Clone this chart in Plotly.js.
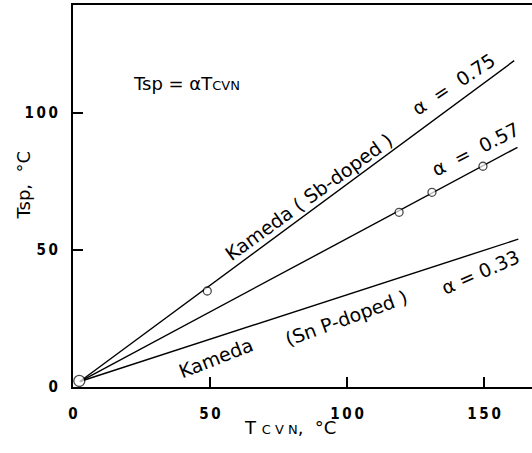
<!DOCTYPE html>
<html>
<head>
<meta charset="utf-8">
<script src="https://cdn.plot.ly/plotly-3.0.1.min.js"></script>
<style>html,body{margin:0;padding:0;background:#fff;}#chart{width:532px;height:453px;}</style>
</head>
<body>
<div id="chart"></div>
<script>
// Measured points (Tcvn, Tsp)
const pointsX = [2.3, 49, 119, 131, 149.6];
const pointsY = [2.2, 35, 63.7, 71, 80.5];
const pointSizes = [11, 8, 8, 8, 8];

// Fitted lines Tsp = alpha * Tcvn (start and end as drawn)
const lineSbX = [2.5, 161];
const lineSbY = [2, 119];
const lineMidX = [2.5, 162.2];
const lineMidY = [2, 87.4];
const lineSnX = [2.5, 162.5];
const lineSnY = [2, 53.9];

const xTickVals = [0, 50, 100, 150];
const xTickText = ["0", "5\u20090", "1\u20090\u20090", "1\u20095\u20090"];
const yTickVals = [0, 50, 100];
const yTickText = ["0", "5\u20090", "1\u20090\u20090"];

const lineStyle = {color: '#000', width: 1.4};
const traces = [
  {x: lineSbX, y: lineSbY, mode: 'lines', line: lineStyle, hoverinfo: 'skip'},
  {x: lineMidX, y: lineMidY, mode: 'lines', line: lineStyle, hoverinfo: 'skip'},
  {x: lineSnX, y: lineSnY, mode: 'lines', line: lineStyle, hoverinfo: 'skip'},
  {x: pointsX, y: pointsY, mode: 'markers',
   marker: {symbol: 'circle', size: pointSizes, color: '#fff', line: {color: '#000', width: 1.3}}}
];

const annFont = {family: 'DejaVu Sans, sans-serif', size: 19, color: '#000'};
const nb = '\u00a0';
const layout = {
  width: 532, height: 453,
  margin: {l: 73, r: 0, t: 5, b: 66},
  paper_bgcolor: '#fff', plot_bgcolor: '#fff',
  showlegend: false,
  xaxis: {
    range: [0, 167.5], tickvals: xTickVals, ticktext: xTickText,
    ticks: 'inside', ticklen: 10, tickwidth: 1.5, tickcolor: '#000',
    showline: true, linewidth: 2, linecolor: '#000', mirror: true,
    showgrid: false, zeroline: false, ticklabelstandoff: 12,
    tickfont: {family: 'DejaVu Sans Condensed, DejaVu Sans, sans-serif', size: 15, weight: 'bold', color: '#000'}
  },
  yaxis: {
    range: [0, 139.3], tickvals: yTickVals, ticktext: yTickText,
    ticks: 'inside', ticklen: 10, tickwidth: 1.5, tickcolor: '#000',
    showline: true, linewidth: 2, linecolor: '#000',
    showgrid: false, zeroline: false, ticklabelstandoff: 10,
    tickfont: {family: 'DejaVu Sans Condensed, DejaVu Sans, sans-serif', size: 15, weight: 'bold', color: '#000'}
  },
  annotations: [
    {xref: 'x', yref: 'y', x: 41.5, y: 110.8, showarrow: false,
     text: 'Tsp' + nb + '=' + nb + 'αT<span style="font-size:13px">CVN</span>',
     font: {family: 'DejaVu Sans, sans-serif', size: 18, color: '#000'}},
    {xref: 'x', yref: 'y', x: 85.9, y: 69.4, showarrow: false, textangle: -36,
     text: 'Kameda ( Sb-doped )', font: annFont},
    {xref: 'x', yref: 'y', x: 138.9, y: 110.5, showarrow: false, textangle: -33.5,
     text: 'α' + nb + nb + '=' + nb + nb + '0.75', font: annFont},
    {xref: 'x', yref: 'y', x: 146.9, y: 86.8, showarrow: false, textangle: -27,
     text: 'α' + nb + nb + '=' + nb + nb + '0.57', font: annFont},
    {xref: 'x', yref: 'y', x: 52.0, y: 10.6, showarrow: false, textangle: -21.5,
     text: 'Kameda', font: annFont},
    {xref: 'x', yref: 'y', x: 99.5, y: 25.2, showarrow: false, textangle: -20,
     text: '(Sn P-doped )', font: annFont},
    {xref: 'x', yref: 'y', x: 148.7, y: 41.9, showarrow: false, textangle: -23.6,
     text: 'α' + nb + '=' + nb + '0.33', font: annFont},
    {xref: 'paper', yref: 'paper', x: 0.473, y: -0.139, showarrow: false,
     text: 'T' + nb + '<span style="font-size:13px">C' + nb + 'V' + nb + 'N</span>,' + nb + nb + '°C',
     font: {family: 'DejaVu Sans, sans-serif', size: 18, color: '#000'}},
    {xref: 'paper', yref: 'paper', x: -0.135, y: 0.529, showarrow: false, textangle: -90,
     text: 'Tsp,' + nb + nb + '°C',
     font: {family: 'DejaVu Sans, sans-serif', size: 18, color: '#000'}}
  ]
};

Plotly.newPlot('chart', traces, layout, {staticPlot: true, displayModeBar: false});
</script>
</body>
</html>
